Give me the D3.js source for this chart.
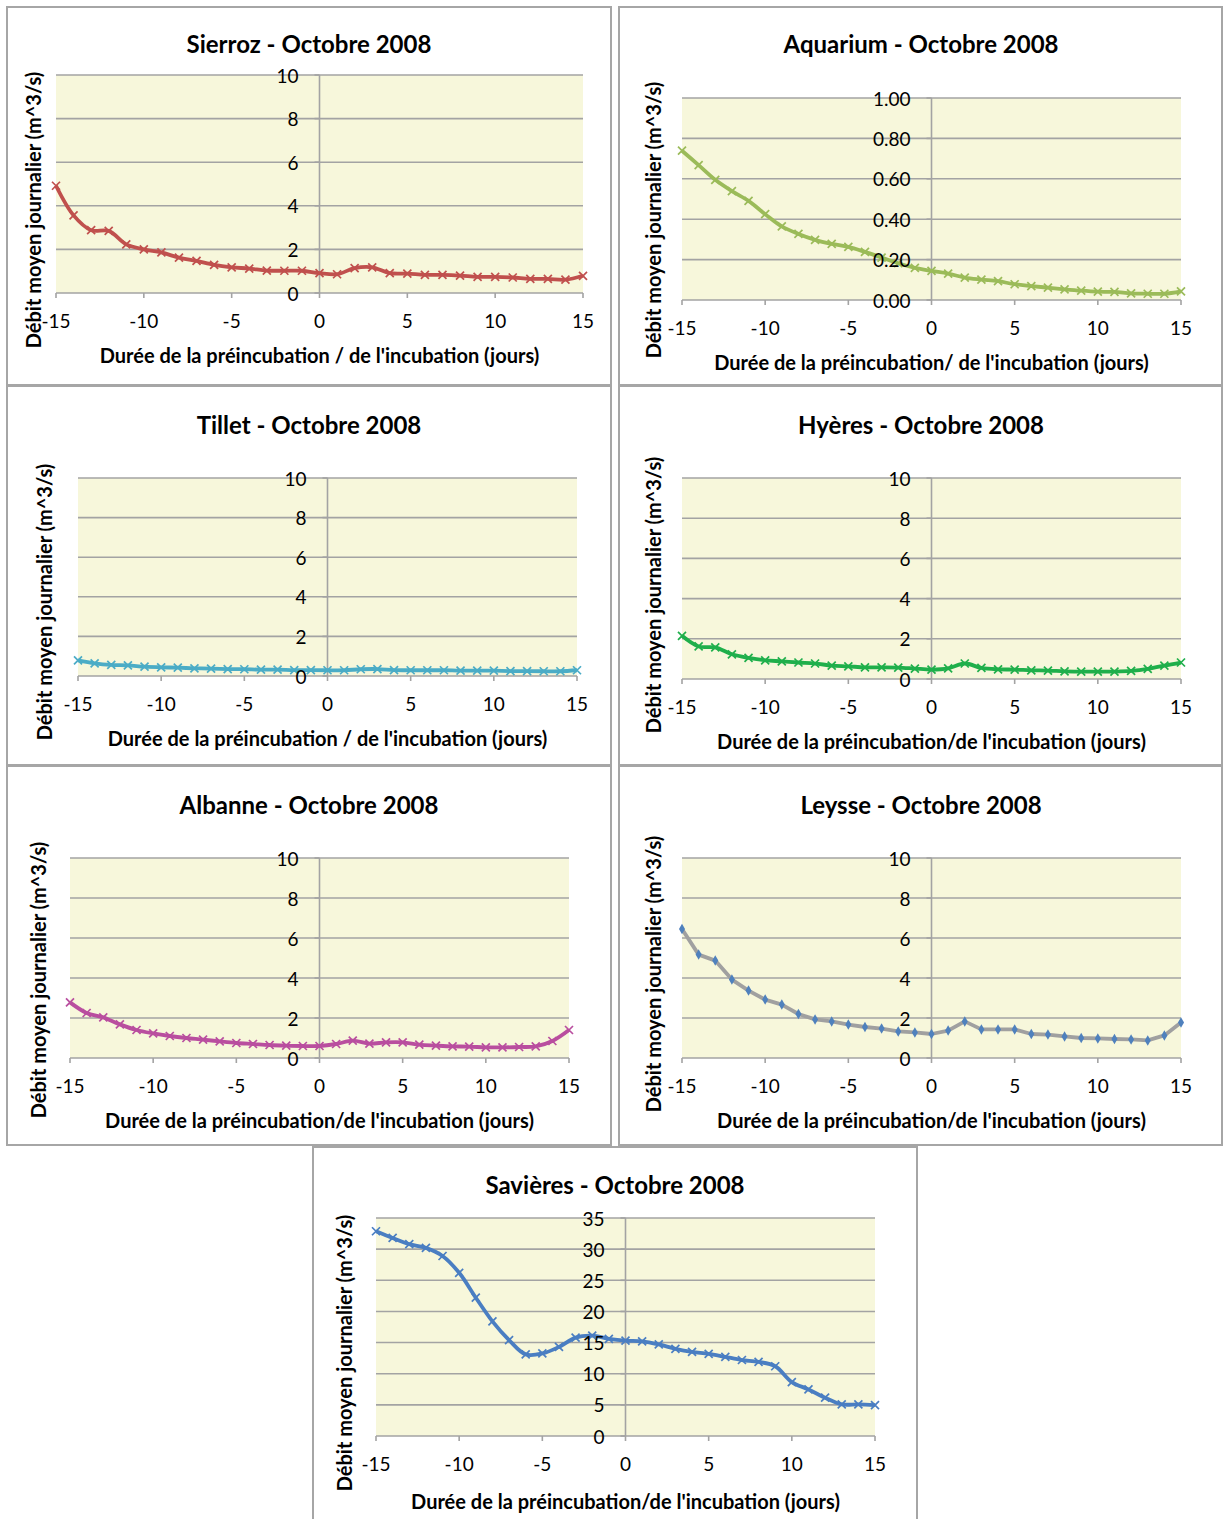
<!DOCTYPE html>
<html>
<head>
<meta charset="utf-8">
<script src="https://cdnjs.cloudflare.com/ajax/libs/d3/7.8.5/d3.min.js"></script>
<style>
  body { margin: 0; background: #ffffff; }
  text { font-family: Lato, "Open Sans", sans-serif; fill: #000; }
</style>
</head>
<body>
<script>
// ---------- DATA ----------
const days = [-15,-14,-13,-12,-11,-10,-9,-8,-7,-6,-5,-4,-3,-2,-1,0,1,2,3,4,5,6,7,8,9,10,11,12,13,14,15];
const xTickLabels = [-15,-10,-5,0,5,10,15];
const yTicks10 = [0,2,4,6,8,10];
const yTicksAquarium = [0,0.2,0.4,0.6,0.8,1.0];
const yTicksSavieres = [0,5,10,15,20,25,30,35];

const sierroz  = [4.92,3.56,2.88,2.85,2.23,2.0,1.86,1.62,1.47,1.29,1.18,1.12,1.03,1.02,1.02,0.91,0.86,1.14,1.18,0.91,0.89,0.83,0.83,0.80,0.74,0.74,0.71,0.65,0.65,0.61,0.79];
const aquarium = [0.739,0.668,0.595,0.539,0.491,0.425,0.364,0.327,0.298,0.278,0.263,0.238,0.21,0.182,0.159,0.144,0.131,0.111,0.101,0.093,0.078,0.069,0.061,0.053,0.046,0.041,0.040,0.033,0.031,0.031,0.043];
const tillet   = [0.79,0.64,0.56,0.54,0.47,0.44,0.42,0.39,0.37,0.35,0.34,0.32,0.32,0.30,0.30,0.29,0.29,0.34,0.35,0.30,0.29,0.29,0.29,0.27,0.27,0.27,0.25,0.25,0.24,0.24,0.29];
const hyeres   = [2.15,1.62,1.57,1.23,1.05,0.93,0.88,0.82,0.77,0.67,0.63,0.58,0.58,0.57,0.52,0.47,0.53,0.77,0.55,0.48,0.47,0.43,0.42,0.38,0.37,0.37,0.37,0.40,0.50,0.67,0.82];
const albanne  = [2.78,2.25,2.03,1.68,1.40,1.23,1.10,1.00,0.92,0.83,0.75,0.70,0.65,0.62,0.60,0.60,0.70,0.87,0.72,0.78,0.78,0.67,0.62,0.58,0.57,0.53,0.53,0.55,0.58,0.85,1.40];
const leysse   = [6.45,5.17,4.87,3.92,3.37,2.92,2.67,2.20,1.93,1.83,1.67,1.55,1.47,1.33,1.28,1.20,1.37,1.83,1.43,1.43,1.43,1.20,1.17,1.08,1.00,0.98,0.95,0.93,0.88,1.13,1.78];
const savieres = [32.87,31.8,30.8,30.2,28.9,26.2,22.2,18.4,15.4,13.1,13.25,14.3,15.8,16.1,15.6,15.3,15.2,14.7,14.0,13.5,13.2,12.7,12.2,11.9,11.2,8.66,7.48,6.15,5.08,5.08,4.97];

const xTitleA = "Durée de la préincubation / de l'incubation (jours)";
const xTitleB = "Durée de la préincubation/ de l'incubation (jours)";
const xTitleC = "Durée de la préincubation/de l'incubation (jours)";
const yTitle = "Débit moyen journalier (m^3/s)";

// ---------- LAYOUT ----------
const panels = [
  {title:"Sierroz - Octobre 2008", values:sierroz, color:"#C0504D", marker:"x", smooth:true,
   box:[7,7,604,378], plot:[56,583,75,293], yMax:10, yTicks:yTicks10, fmt:d3.format("d"),
   xTitle:xTitleA, titleX:309, titleY:43, yTitleX:33, yTitleY:210},
  {title:"Aquarium - Octobre 2008", values:aquarium, color:"#9BBB59", marker:"x", smooth:true,
   box:[619,7,603,378], plot:[682,1181,98,300], yMax:1, yTicks:yTicksAquarium, fmt:d3.format(".2f"),
   xTitle:xTitleB, titleX:921, titleY:43, yTitleX:653, yTitleY:220},
  {title:"Tillet - Octobre 2008", values:tillet, color:"#4BACC6", marker:"x", smooth:true,
   box:[7,386,604,379], plot:[78,577,478,676], yMax:10, yTicks:yTicks10, fmt:d3.format("d"),
   xTitle:xTitleA, titleX:309, titleY:424, yTitleX:44, yTitleY:602},
  {title:"Hyères - Octobre 2008", values:hyeres, color:"#1FAF4B", marker:"x", smooth:true,
   box:[619,386,603,379], plot:[682,1181,478,679], yMax:10, yTicks:yTicks10, fmt:d3.format("d"),
   xTitle:xTitleC, titleX:921, titleY:424, yTitleX:653, yTitleY:595},
  {title:"Albanne - Octobre 2008", values:albanne, color:"#B94E9F", marker:"x", smooth:true,
   box:[7,766,604,379], plot:[70,569,858,1058], yMax:10, yTicks:yTicks10, fmt:d3.format("d"),
   xTitle:xTitleC, titleX:309, titleY:804, yTitleX:38, yTitleY:980},
  {title:"Leysse - Octobre 2008", values:leysse, color:"#A0A0A0", marker:"diamond", smooth:false,
   box:[619,766,603,379], plot:[682,1181,858,1058], yMax:10, yTicks:yTicks10, fmt:d3.format("d"),
   xTitle:xTitleC, titleX:921, titleY:804, yTitleX:653, yTitleY:974},
  {title:"Savières - Octobre 2008", values:savieres, color:"#4A7EC2", marker:"x", smooth:true,
   box:[313,1147,604,380], plot:[376,875,1218,1436], yMax:35, yTicks:yTicksSavieres, fmt:d3.format("d"),
   xTitle:xTitleC, titleX:615, titleY:1184, yTitleX:344, yTitleY:1353, xTitleOff:65}
];

const svg = d3.select("body").append("svg").attr("width",1223).attr("height",1519);

panels.forEach(p => {
  const g = svg.append("g");
  const [bx,by,bw,bh] = p.box;
  g.append("rect").attr("x",bx).attr("y",by).attr("width",bw).attr("height",bh)
    .attr("fill","#fff").attr("stroke","#A6A6A6").attr("stroke-width",2);

  const [x0,x1,yT,yB] = p.plot;
  const x = d3.scaleLinear().domain([-15,15]).range([x0,x1]);
  const y = d3.scaleLinear().domain([0,p.yMax]).range([yB,yT]);

  g.append("rect").attr("x",x0).attr("y",yT).attr("width",x1-x0).attr("height",yB-yT).attr("fill","#F7F7DB");

  g.selectAll(".grid").data(p.yTicks).enter().append("line")
    .attr("x1",x0).attr("x2",x1).attr("y1",d=>y(d)).attr("y2",d=>y(d))
    .attr("stroke","#A3A3A3").attr("stroke-width",1.6);

  g.selectAll(".xt").data(xTickLabels).enter().append("line")
    .attr("x1",d=>x(d)).attr("x2",d=>x(d)).attr("y1",yB).attr("y2",yB+5)
    .attr("stroke","#A3A3A3").attr("stroke-width",1.6);

  g.append("line").attr("x1",x(0)).attr("x2",x(0)).attr("y1",yT).attr("y2",yB)
    .attr("stroke","#A3A3A3").attr("stroke-width",1.6);
  g.selectAll(".yt").data(p.yTicks).enter().append("line")
    .attr("x1",x(0)-5).attr("x2",x(0)).attr("y1",d=>y(d)).attr("y2",d=>y(d))
    .attr("stroke","#A3A3A3").attr("stroke-width",1.6);

  const pts = days.map((d,i)=>[d,p.values[i]]);
  const line = d3.line().x(d=>x(d[0])).y(d=>y(d[1]))
    .curve(p.smooth ? d3.curveCatmullRom.alpha(0.5) : d3.curveLinear);
  g.append("path").attr("d",line(pts)).attr("fill","none")
    .attr("stroke",p.color).attr("stroke-width",3.8).attr("stroke-linejoin","round");

  if (p.marker === "x") {
    const s = 4;
    g.selectAll(".mk").data(pts).enter().append("path")
      .attr("d",d=>{const cx=x(d[0]),cy=y(d[1]);
        return `M${cx-s},${cy-s}L${cx+s},${cy+s}M${cx-s},${cy+s}L${cx+s},${cy-s}`;})
      .attr("stroke",p.color).attr("stroke-width",1.7).attr("fill","none");
  } else {
    const sym = d3.symbol().type(d3.symbolDiamond).size(32);
    g.selectAll(".mk").data(pts).enter().append("path")
      .attr("d",sym).attr("transform",d=>`translate(${x(d[0])},${y(d[1])})`)
      .attr("fill","#4F81BD");
  }

  g.selectAll(".yl").data(p.yTicks).enter().append("text")
    .attr("x",x(0)-21).attr("y",d=>y(d)).attr("text-anchor","end")
    .attr("dominant-baseline","central").attr("font-size",19).text(d=>p.fmt(d));

  g.selectAll(".xl").data(xTickLabels).enter().append("text")
    .attr("x",d=>x(d)).attr("y",yB+27).attr("text-anchor","middle")
    .attr("dominant-baseline","central").attr("font-size",19).text(d=>d);

  g.append("text").attr("x",p.titleX).attr("y",p.titleY).attr("text-anchor","middle")
    .attr("dominant-baseline","central").attr("font-size",24).attr("font-weight","bold").text(p.title);
  g.append("text").attr("x",x(0)).attr("y",yB+(p.xTitleOff||62)).attr("text-anchor","middle")
    .attr("dominant-baseline","central").attr("font-size",20).attr("font-weight","bold").text(p.xTitle);
  g.append("text").attr("transform",`translate(${p.yTitleX},${p.yTitleY}) rotate(-90)`)
    .attr("text-anchor","middle").attr("dominant-baseline","central")
    .attr("font-size",20).attr("font-weight","bold").text(yTitle);
});
</script>
</body>
</html>
